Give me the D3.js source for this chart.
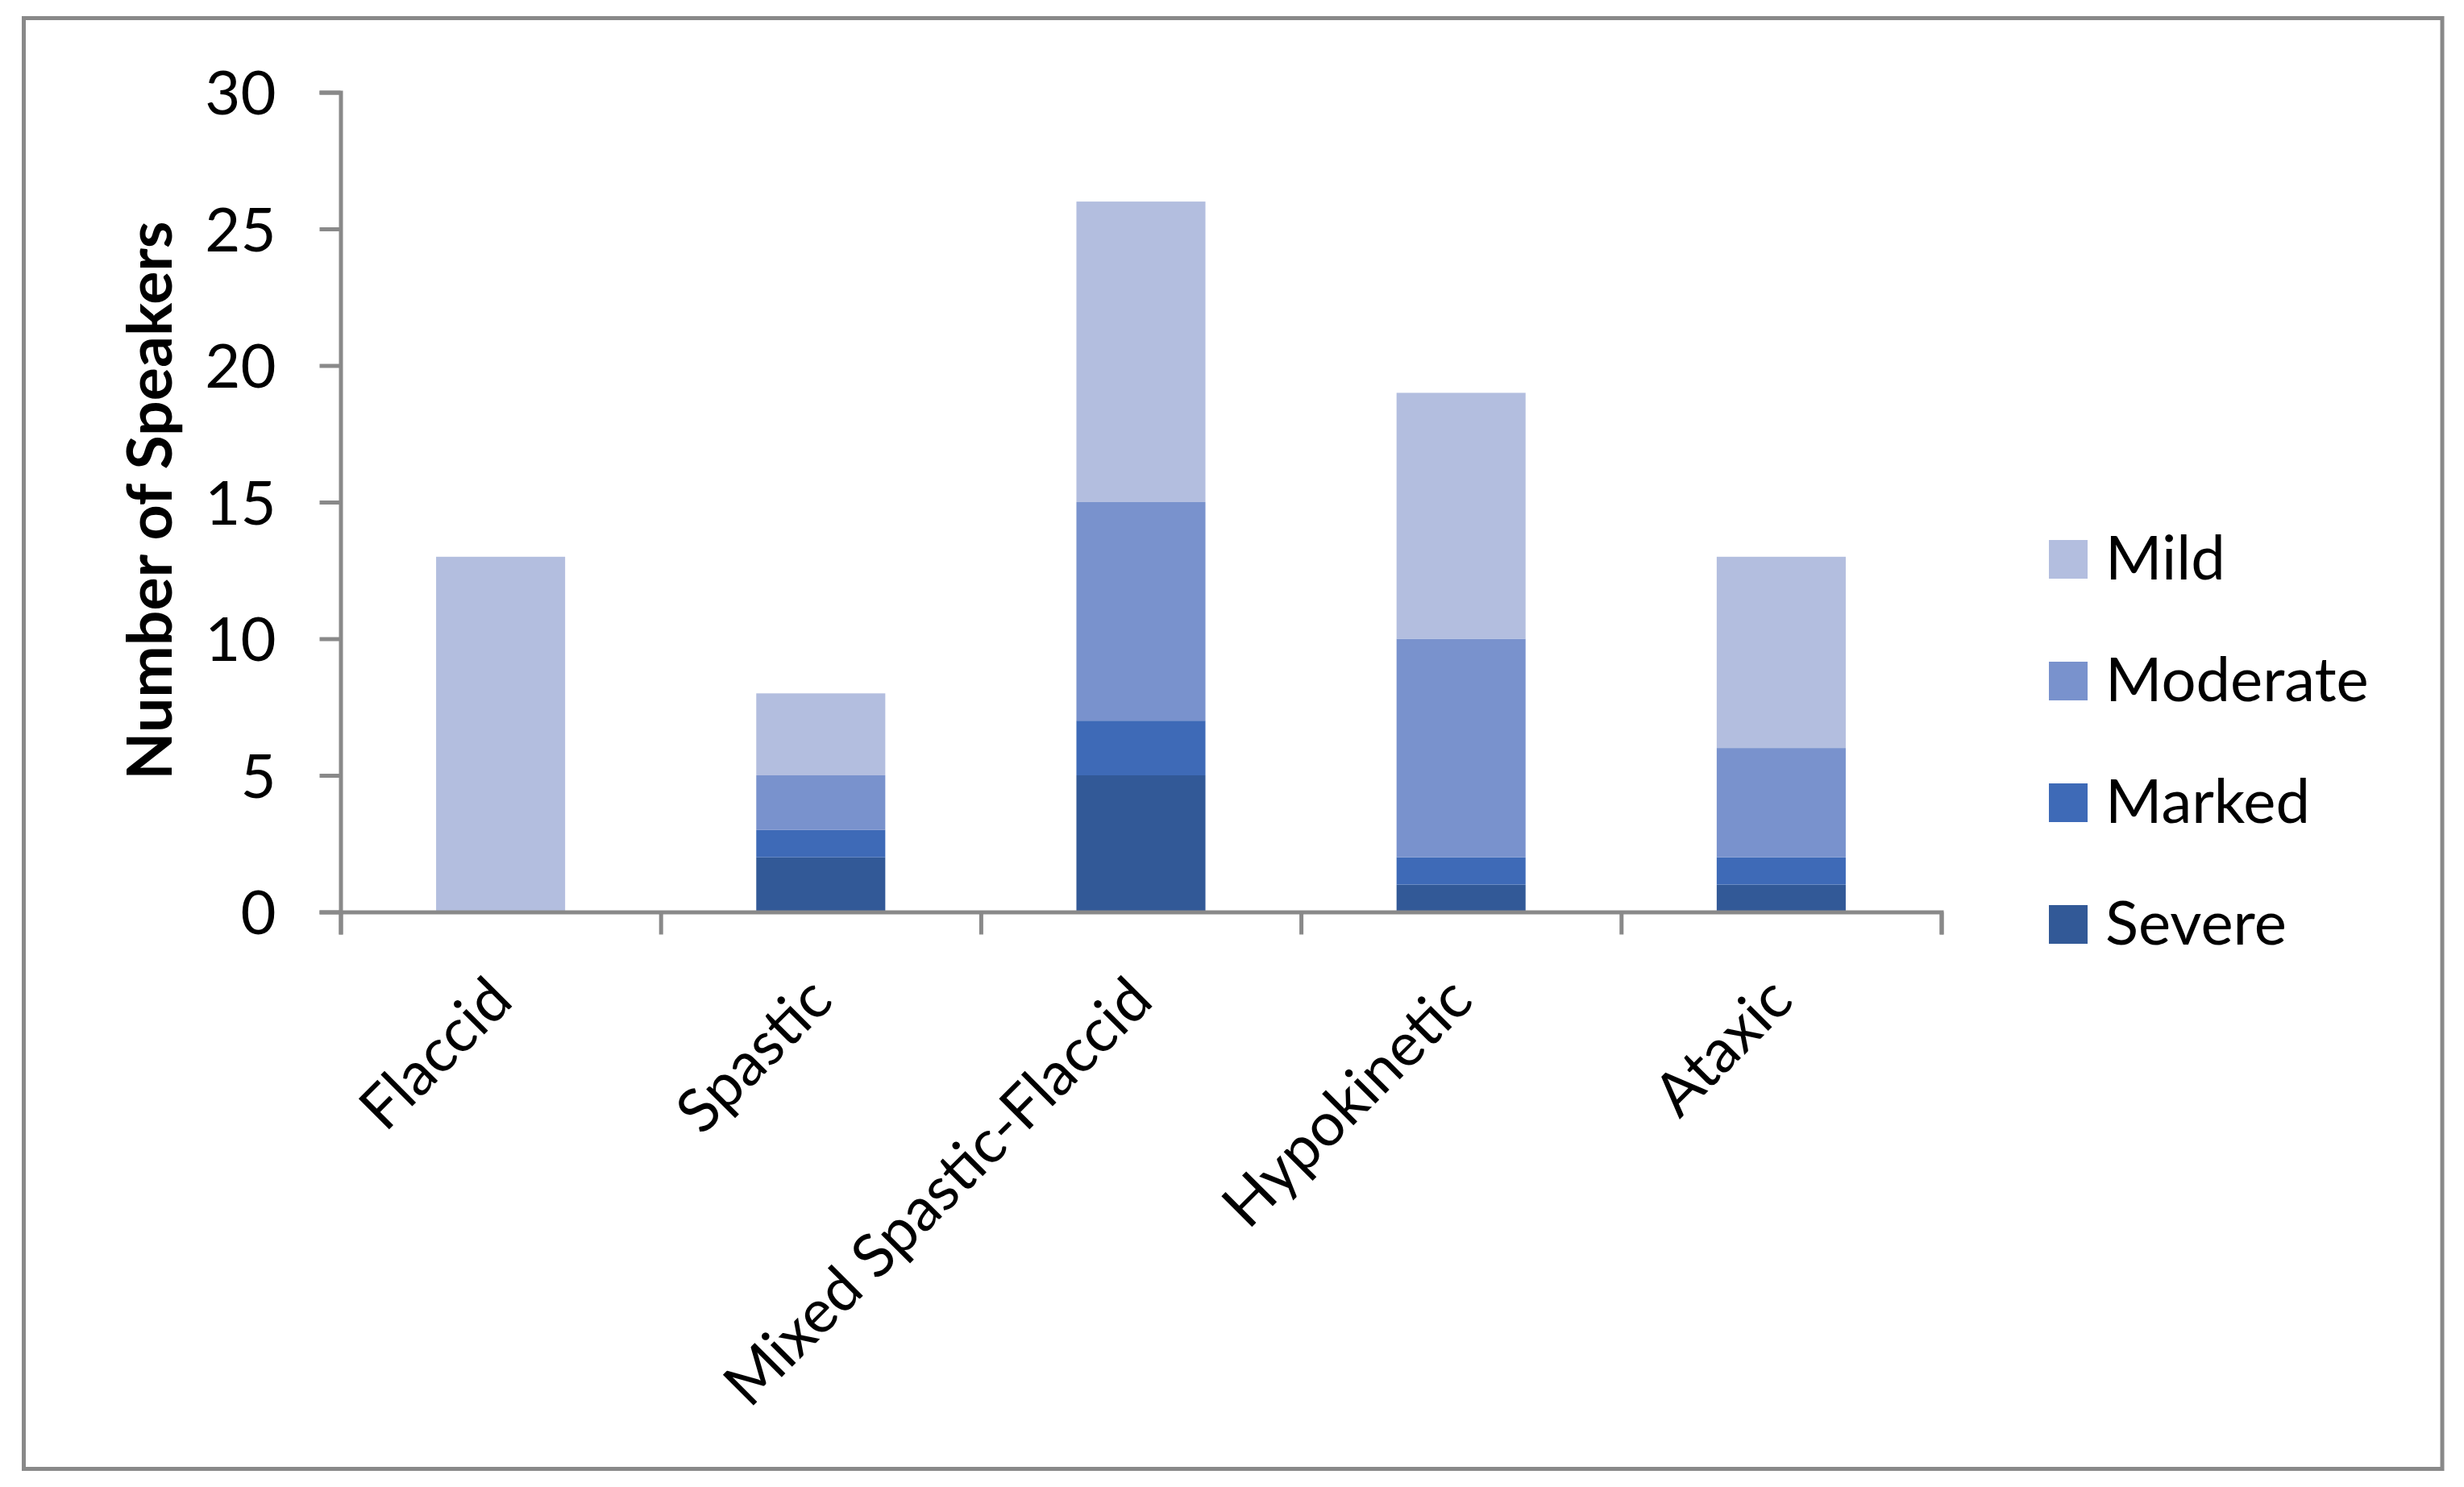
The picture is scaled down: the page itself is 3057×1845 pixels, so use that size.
<!DOCTYPE html>
<html>
<head>
<meta charset="utf-8">
<script src="https://cdn.jsdelivr.net/npm/d3@7"></script>
<style>
  html, body { margin: 0; padding: 0; background: #fff; }
  svg { display: block; }
  text { font-family: Lato, "Open Sans", sans-serif; fill: #000; }
</style>
</head>
<body>
<svg id="chart" width="3057" height="1845"></svg>
<script>
// ---- data ----
const categories = ["Flaccid", "Spastic", "Mixed Spastic-Flaccid", "Hypokinetic", "Ataxic"];
const seriesNames = ["Severe", "Marked", "Moderate", "Mild"];
const severe   = [0, 2, 5, 1, 1];
const marked   = [0, 1, 2, 1, 1];
const moderate = [0, 2, 8, 8, 4];
const mild     = [13, 3, 11, 9, 7];
const yTicks = [0, 5, 10, 15, 20, 25, 30];
const yTitle = "Number of Speakers";
const legendOrder = ["Mild", "Moderate", "Marked", "Severe"];
const colors = { Severe: "#325997", Marked: "#3E6AB7", Moderate: "#7992CD", Mild: "#B3BEDF" };

const seriesValues = { Severe: severe, Marked: marked, Moderate: moderate, Mild: mild };
const rows = categories.map((c, i) => {
  const r = { category: c };
  seriesNames.forEach(s => r[s] = seriesValues[s][i]);
  return r;
});

(function () {
// ---- layout ----
const svg = d3.select("#chart");
const axisColor = "#898989";
const pLeft = 422.5, pRight = 2408.5, pTop = 114.5, pBottom = 1131.5;

// outer border
svg.append("rect")
  .attr("x", 29.5).attr("y", 22.5).attr("width", 3000.5).attr("height", 1800)
  .attr("fill", "#fff").attr("stroke", axisColor).attr("stroke-width", 5);

const pad = 0.597;
const x = d3.scaleBand().domain(categories).range([pLeft, pRight])
  .paddingInner(pad).paddingOuter(pad / 2);
const y = d3.scaleLinear().domain([0, 30]).range([pBottom, pTop]);

const stacked = d3.stack().keys(seriesNames)(rows);

// bars
svg.append("g").selectAll("g.series").data(stacked).join("g")
  .attr("class", "series")
  .attr("fill", d => colors[d.key])
  .selectAll("rect").data(d => d.filter(p => p[1] - p[0] > 0)).join("rect")
  .attr("x", d => x(d.data.category))
  .attr("width", x.bandwidth())
  .attr("y", d => y(d[1]))
  .attr("height", d => y(d[0]) - y(d[1]));

// y axis
const yAxis = svg.append("g")
  .attr("transform", `translate(${pLeft},0)`)
  .call(d3.axisLeft(y).tickValues(yTicks).tickSize(26).tickPadding(54));
yAxis.selectAll("path, line").attr("stroke", axisColor).attr("stroke-width", 5);
yAxis.selectAll("text").style("font-size", "76px").attr("dy", "0.36em");

// x axis (boundary ticks)
const xb = d3.scaleLinear().domain([0, categories.length]).range([pLeft, pRight]);
const xAxis = svg.append("g")
  .attr("transform", `translate(0,${pBottom})`)
  .call(d3.axisBottom(xb).ticks(categories.length).tickSize(28).tickFormat(""));
xAxis.selectAll("path, line").attr("stroke", axisColor).attr("stroke-width", 5);

// category labels
svg.append("g").selectAll("text").data(categories).join("text")
  .attr("text-anchor", "end")
  .attr("transform", d => `translate(${x(d) + x.bandwidth() / 2 + 18},1245) rotate(-45)`)
  .style("font-size", "75px")
  .text(d => d);

// y title
svg.append("text")
  .attr("text-anchor", "middle")
  .attr("transform", `translate(213,${(pTop + pBottom) / 2 - 2}) rotate(-90)`)
  .style("font-size", "77px").style("font-weight", "bold")
  .text(yTitle);

// legend
const item = svg.append("g").selectAll("g").data(legendOrder).join("g")
  .attr("transform", (d, i) => `translate(2542,${670 + i * 151})`);
item.append("rect").attr("width", 48).attr("height", 48).attr("fill", d => colors[d]);
item.append("text").attr("x", 70).attr("y", 49).style("font-size", "76px").text(d => d);
})();
</script>
</body>
</html>
